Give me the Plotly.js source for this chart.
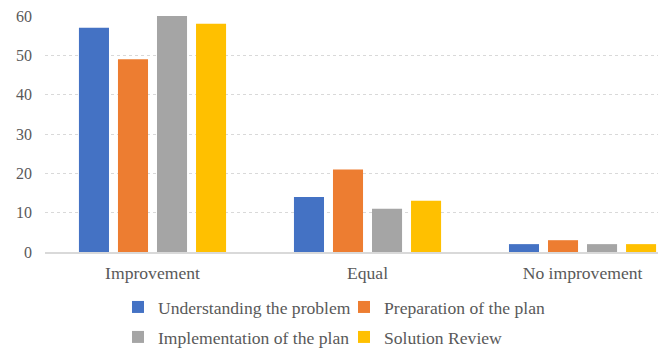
<!DOCTYPE html>
<html>
<head>
<meta charset="utf-8">
<script src="https://cdn.plot.ly/plotly-3.0.1.min.js"></script>
<style>html,body{margin:0;padding:0;background:#fff;}#chart{width:658px;height:349px;}</style>
</head>
<body>
<div id="chart"></div>
<script>
const categories = ["Improvement", "Equal", "No improvement"];
const seriesNames = ["Understanding the problem", "Preparation of the plan", "Implementation of the plan", "Solution Review"];
const understanding = [57, 14, 2];
const preparation = [49, 21, 3];
const implementation = [60, 11, 2];
const review = [58, 13, 2];
const yTicks = [0, 10, 20, 30, 40, 50, 60];

const colors = ["#4472C4", "#ED7D31", "#A5A5A5", "#FFC000"];
const values = [understanding, preparation, implementation, review];
const legendIds = ["legend", "legend2", "legend3", "legend4"];

const traces = values.map((v, i) => ({
  type: "bar",
  x: categories,
  y: v,
  name: seriesNames[i],
  marker: {color: colors[i]},
  legend: legendIds[i],
  hoverinfo: "none"
}));

const FAMILY = "Liberation Serif";
const TEXTCOLOR = "#595959";
const legendPos = [
  {x: 0.1793, y: 0.1203},
  {x: 0.5228, y: 0.1203},
  {x: 0.1793, y: 0.0344},
  {x: 0.5228, y: 0.0344}
];
const layout = {
  width: 658,
  height: 349,
  margin: {l: 45, r: 0, t: 16, b: 97},
  paper_bgcolor: "#ffffff",
  plot_bgcolor: "#ffffff",
  font: {family: FAMILY, size: 16, color: TEXTCOLOR},
  barmode: "group",
  bargap: 0.274,
  bargroupgap: 0.23,
  xaxis: {
    type: "category",
    range: [-0.5, 2.351],
    showline: true,
    linecolor: "#d9d9d9",
    linewidth: 1.5,
    showgrid: false,
    ticks: "",
    tickfont: {family: FAMILY, size: 17.6, color: TEXTCOLOR},
    ticklabelstandoff: 4,
    fixedrange: true
  },
  yaxis: {
    range: [0, 60],
    tickvals: yTicks,
    showline: false,
    showgrid: true,
    gridcolor: "#d9d9d9",
    griddash: "dot",
    gridwidth: 1,
    zeroline: false,
    ticks: "",
    tickfont: {family: FAMILY, size: 16, color: TEXTCOLOR},
    ticklabelstandoff: 12,
    fixedrange: true
  },
  showlegend: true
};
legendIds.forEach((id, i) => {
  layout[id] = {
    orientation: "h",
    xref: "container",
    yref: "container",
    x: legendPos[i].x,
    y: legendPos[i].y,
    xanchor: "left",
    yanchor: "middle",
    itemwidth: 30,
    font: {family: FAMILY, size: 17.6, color: TEXTCOLOR},
    bgcolor: "rgba(0,0,0,0)",
    borderwidth: 0
  };
});

Plotly.newPlot("chart", traces, layout, {staticPlot: true, displayModeBar: false});
</script>
</body>
</html>
